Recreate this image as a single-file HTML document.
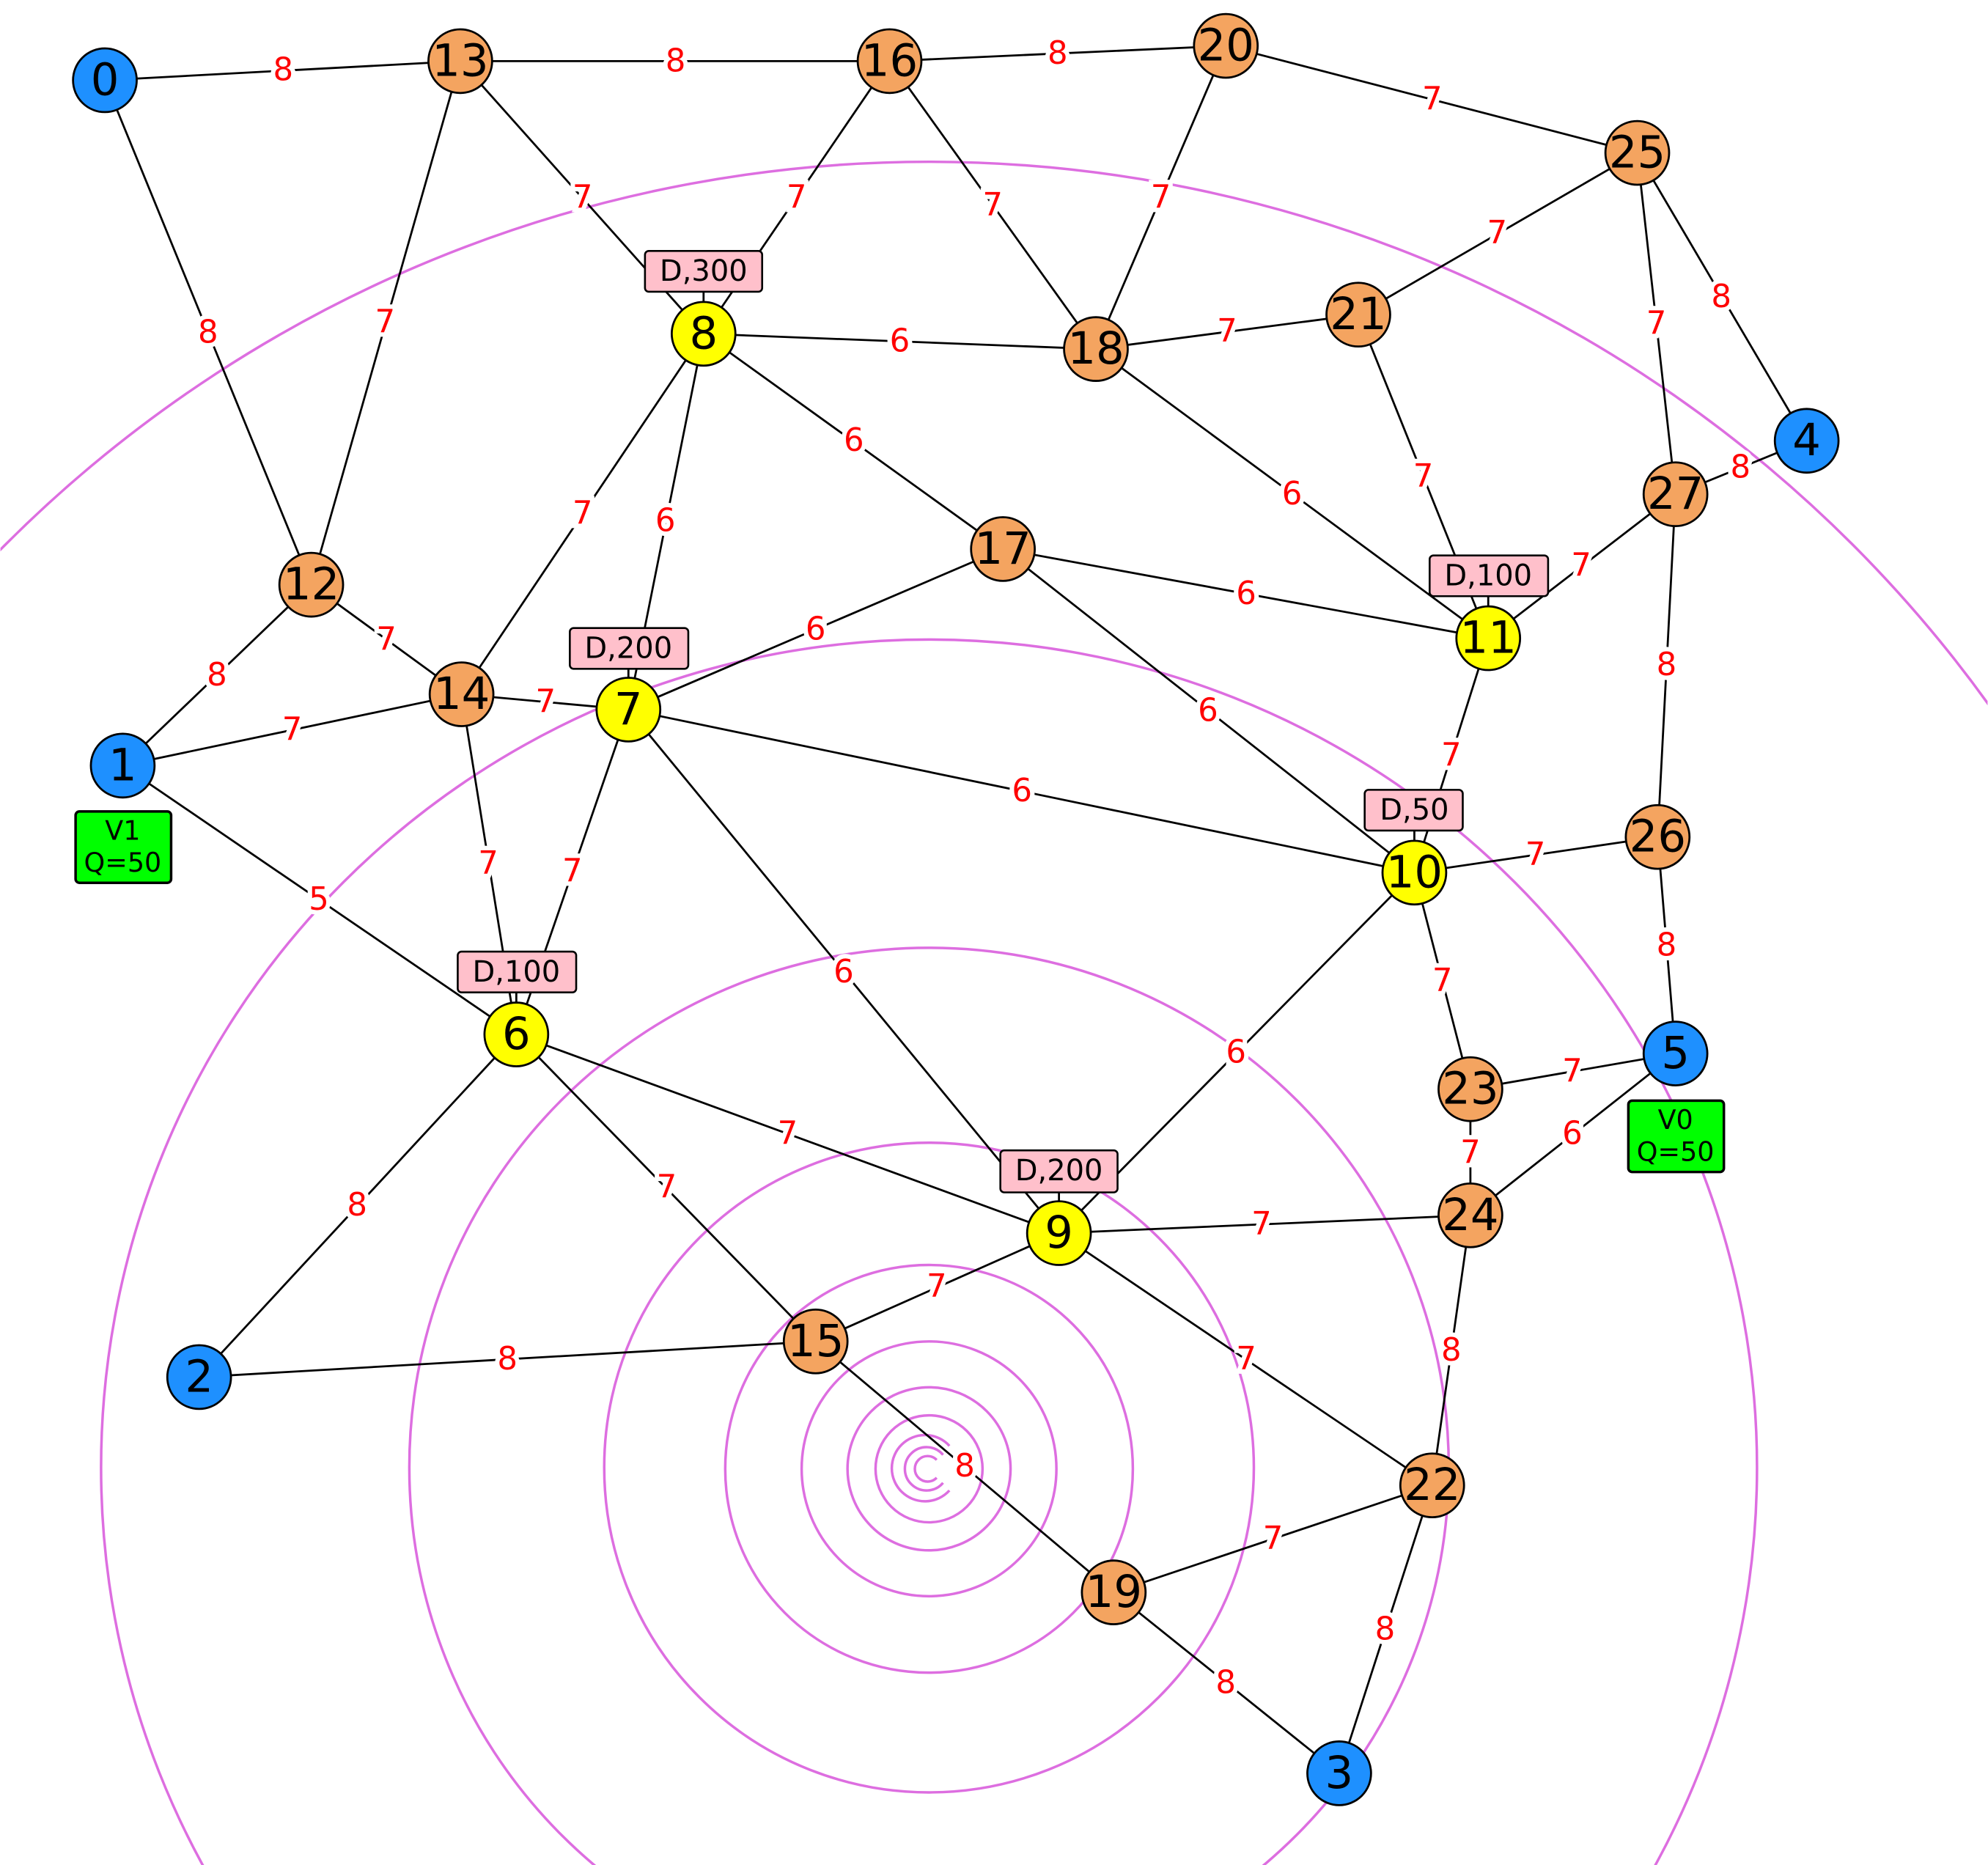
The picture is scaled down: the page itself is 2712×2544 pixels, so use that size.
<!DOCTYPE html>
<html><head><meta charset="utf-8"><style>
html,body{margin:0;padding:0;background:#fff;width:2712px;height:2544px;overflow:hidden}
svg{display:block;position:absolute;left:0;top:0;overflow:hidden}
.e{stroke:#000;stroke-width:1.6}
.l{font-family:"DejaVu Sans","Liberation Sans",sans-serif;font-size:25px;fill:#f00;text-anchor:middle;dominant-baseline:central;stroke:#fff;stroke-width:7px;paint-order:stroke}
.n{stroke:#000;stroke-width:1.6}
.t{font-family:"DejaVu Sans","Liberation Sans",sans-serif;font-size:35px;fill:#000;text-anchor:middle;dominant-baseline:central}
.d{fill:#ffc0cb;stroke:#000;stroke-width:1.5}
.dt{font-family:"DejaVu Sans","Liberation Sans",sans-serif;font-size:23px;fill:#000;text-anchor:middle;dominant-baseline:central}
.s{fill:none;stroke:#dd6ee0;stroke-width:2}
</style></head><body>
<svg width="2712" height="2544" viewBox="0 0 1560 1464" xmlns="http://www.w3.org/2000/svg">
<defs><clipPath id="c"><rect x="0" y="0" width="1560" height="1464"/></clipPath></defs>
<rect width="1560" height="1464" fill="#fff"/>
<g class="s" clip-path="url(#c)">
<circle cx="729" cy="1152" r="1025"/>
<circle cx="729" cy="1152" r="650"/>
<circle cx="729" cy="1152" r="408"/>
<circle cx="729" cy="1152" r="255"/>
<circle cx="729" cy="1153" r="160"/>
<circle cx="729" cy="1153" r="100"/>
<circle cx="729" cy="1153" r="64"/>
<circle cx="729" cy="1153" r="42"/>
<path d="M745,1135 A26,26 0 1 0 745,1170"/>
<path d="M740,1142 A17,17 0 1 0 740,1164"/>
<path d="M735,1146 A10,10 0 1 0 735,1160"/>
</g>
<g class="e">
<line x1="82" y1="63" x2="361" y2="48"/><line x1="361" y1="48" x2="698" y2="48"/><line x1="698" y1="48" x2="962" y2="36"/><line x1="962" y1="36" x2="1285" y2="120"/>
<line x1="82" y1="63" x2="244" y2="459"/><line x1="361" y1="48" x2="244" y2="459"/><line x1="361" y1="48" x2="552" y2="262"/><line x1="698" y1="48" x2="552" y2="262"/>
<line x1="698" y1="48" x2="860" y2="274"/><line x1="962" y1="36" x2="860" y2="274"/><line x1="1285" y1="120" x2="1066" y2="247"/><line x1="1285" y1="120" x2="1418" y2="346"/>
<line x1="1285" y1="120" x2="1315" y2="388"/><line x1="1315" y1="388" x2="1418" y2="346"/><line x1="552" y1="262" x2="860" y2="274"/><line x1="860" y1="274" x2="1066" y2="247"/>
<line x1="552" y1="262" x2="362" y2="545"/><line x1="552" y1="262" x2="493" y2="557"/><line x1="552" y1="262" x2="787" y2="431"/><line x1="860" y1="274" x2="1168" y2="501"/>
<line x1="1066" y1="247" x2="1168" y2="501"/><line x1="1315" y1="388" x2="1168" y2="501"/><line x1="1315" y1="388" x2="1301" y2="657"/><line x1="244" y1="459" x2="96" y2="601"/>
<line x1="244" y1="459" x2="362" y2="545"/><line x1="96" y1="601" x2="362" y2="545"/><line x1="362" y1="545" x2="493" y2="557"/><line x1="493" y1="557" x2="787" y2="431"/>
<line x1="787" y1="431" x2="1168" y2="501"/><line x1="787" y1="431" x2="1110" y2="685"/><line x1="1168" y1="501" x2="1110" y2="685"/><line x1="493" y1="557" x2="1110" y2="685"/>
<line x1="1110" y1="685" x2="1301" y2="657"/><line x1="1301" y1="657" x2="1315" y2="827"/><line x1="96" y1="601" x2="405" y2="812"/><line x1="362" y1="545" x2="405" y2="812"/>
<line x1="493" y1="557" x2="405" y2="812"/><line x1="493" y1="557" x2="831" y2="968"/><line x1="1110" y1="685" x2="831" y2="968"/><line x1="1110" y1="685" x2="1154" y2="855"/>
<line x1="1154" y1="855" x2="1315" y2="827"/><line x1="1154" y1="855" x2="1154" y2="954"/><line x1="1315" y1="827" x2="1154" y2="954"/><line x1="405" y1="812" x2="156" y2="1081"/>
<line x1="405" y1="812" x2="831" y2="968"/><line x1="405" y1="812" x2="640" y2="1053"/><line x1="831" y1="968" x2="1154" y2="954"/><line x1="640" y1="1053" x2="831" y2="968"/>
<line x1="831" y1="968" x2="1124" y2="1166"/><line x1="1154" y1="954" x2="1124" y2="1166"/><line x1="156" y1="1081" x2="640" y2="1053"/><line x1="640" y1="1053" x2="874" y2="1250"/>
<line x1="874" y1="1250" x2="1124" y2="1166"/><line x1="874" y1="1250" x2="1051" y2="1392"/><line x1="1124" y1="1166" x2="1051" y2="1392"/>
<line x1="552" y1="229" x2="552" y2="240"/><line x1="493" y1="525" x2="493" y2="535"/><line x1="1168" y1="468" x2="1168" y2="478"/><line x1="1110" y1="652" x2="1110" y2="662"/><line x1="405" y1="779" x2="405" y2="789"/><line x1="831" y1="936" x2="831" y2="946"/>
</g>
<g class="l">
<text x="222" y="55">8</text><text x="530" y="48">8</text><text x="830" y="42">8</text><text x="1124" y="78">7</text>
<text x="163" y="261">8</text><text x="302" y="253">7</text><text x="457" y="155">7</text><text x="625" y="155">7</text>
<text x="779" y="161">7</text><text x="911" y="155">7</text><text x="1175" y="183">7</text><text x="1351" y="233">8</text>
<text x="1300" y="254">7</text><text x="1366" y="367">8</text><text x="706" y="268">6</text><text x="963" y="260">7</text>
<text x="457" y="403">7</text><text x="522" y="409">6</text><text x="670" y="346">6</text><text x="1014" y="388">6</text>
<text x="1117" y="374">7</text><text x="1241" y="444">7</text><text x="1308" y="522">8</text><text x="170" y="530">8</text>
<text x="303" y="502">7</text><text x="229" y="573">7</text><text x="428" y="551">7</text><text x="640" y="494">6</text>
<text x="978" y="466">6</text><text x="948" y="558">6</text><text x="1139" y="593">7</text><text x="802" y="621">6</text>
<text x="1205" y="671">7</text><text x="1308" y="742">8</text><text x="250" y="706">5</text><text x="383" y="678">7</text>
<text x="449" y="684">7</text><text x="662" y="763">6</text><text x="970" y="826">6</text><text x="1132" y="770">7</text>
<text x="1234" y="841">7</text><text x="1154" y="905">7</text><text x="1234" y="890">6</text><text x="280" y="946">8</text>
<text x="618" y="890">7</text><text x="523" y="932">7</text><text x="990" y="961">7</text><text x="735" y="1010">7</text>
<text x="978" y="1067">7</text><text x="1139" y="1060">8</text><text x="398" y="1067">8</text><text x="757" y="1151">8</text>
<text x="999" y="1208">7</text><text x="962" y="1321">8</text><text x="1087" y="1279">8</text>
</g>
<g>
<rect class="d" x="506" y="197" width="92" height="32" rx="3"/><text class="dt" x="552" y="213">D,300</text>
<rect class="d" x="447" y="493" width="93" height="32" rx="3"/><text class="dt" x="493" y="509">D,200</text>
<rect class="d" x="1122" y="436" width="93" height="32" rx="3"/><text class="dt" x="1168" y="452">D,100</text>
<rect class="d" x="1071" y="620" width="77" height="32" rx="3"/><text class="dt" x="1110" y="636">D,50</text>
<rect class="d" x="359" y="747" width="93" height="32" rx="3"/><text class="dt" x="405" y="763">D,100</text>
<rect class="d" x="785" y="903" width="92" height="33" rx="3"/><text class="dt" x="831" y="919">D,200</text>
<rect x="59" y="637" width="75" height="56" rx="3" fill="#00ff00" stroke="#000" stroke-width="2"/>
<text class="dt" x="96" y="652" style="font-size:21px">V1</text><text class="dt" x="96" y="677" style="font-size:21px">Q=50</text>
<rect x="1278" y="864" width="75" height="56" rx="3" fill="#00ff00" stroke="#000" stroke-width="2"/>
<text class="dt" x="1315" y="879" style="font-size:21px">V0</text><text class="dt" x="1315" y="904" style="font-size:21px">Q=50</text>
</g>
<g class="n">
<circle cx="82" cy="63" r="25" fill="#1e90ff"/><circle cx="96" cy="601" r="25" fill="#1e90ff"/><circle cx="156" cy="1081" r="25" fill="#1e90ff"/><circle cx="1051" cy="1392" r="25" fill="#1e90ff"/><circle cx="1418" cy="346" r="25" fill="#1e90ff"/><circle cx="1315" cy="827" r="25" fill="#1e90ff"/>
<circle cx="405" cy="812" r="25" fill="#ffff00"/><circle cx="493" cy="557" r="25" fill="#ffff00"/><circle cx="552" cy="262" r="25" fill="#ffff00"/><circle cx="831" cy="968" r="25" fill="#ffff00"/><circle cx="1110" cy="685" r="25" fill="#ffff00"/><circle cx="1168" cy="501" r="25" fill="#ffff00"/>
<circle cx="244" cy="459" r="25" fill="#f4a460"/><circle cx="361" cy="48" r="25" fill="#f4a460"/><circle cx="362" cy="545" r="25" fill="#f4a460"/><circle cx="640" cy="1053" r="25" fill="#f4a460"/><circle cx="698" cy="48" r="25" fill="#f4a460"/><circle cx="787" cy="431" r="25" fill="#f4a460"/><circle cx="860" cy="274" r="25" fill="#f4a460"/><circle cx="874" cy="1250" r="25" fill="#f4a460"/><circle cx="962" cy="36" r="25" fill="#f4a460"/><circle cx="1066" cy="247" r="25" fill="#f4a460"/><circle cx="1124" cy="1166" r="25" fill="#f4a460"/><circle cx="1154" cy="855" r="25" fill="#f4a460"/><circle cx="1154" cy="954" r="25" fill="#f4a460"/><circle cx="1285" cy="120" r="25" fill="#f4a460"/><circle cx="1301" cy="657" r="25" fill="#f4a460"/><circle cx="1315" cy="388" r="25" fill="#f4a460"/>
</g>
<g class="t">
<text x="82" y="63">0</text><text x="96" y="601">1</text><text x="156" y="1081">2</text><text x="1051" y="1392">3</text><text x="1418" y="346">4</text><text x="1315" y="827">5</text>
<text x="405" y="812">6</text><text x="493" y="557">7</text><text x="552" y="262">8</text><text x="831" y="968">9</text><text x="1110" y="685">10</text><text x="1168" y="501">11</text>
<text x="244" y="459">12</text><text x="361" y="48">13</text><text x="362" y="545">14</text><text x="640" y="1053">15</text><text x="698" y="48">16</text><text x="787" y="431">17</text><text x="860" y="274">18</text><text x="874" y="1250">19</text><text x="962" y="36">20</text><text x="1066" y="247">21</text><text x="1124" y="1166">22</text><text x="1154" y="855">23</text><text x="1154" y="954">24</text><text x="1285" y="120">25</text><text x="1301" y="657">26</text><text x="1315" y="388">27</text>
</g>
</svg>
</body></html>
